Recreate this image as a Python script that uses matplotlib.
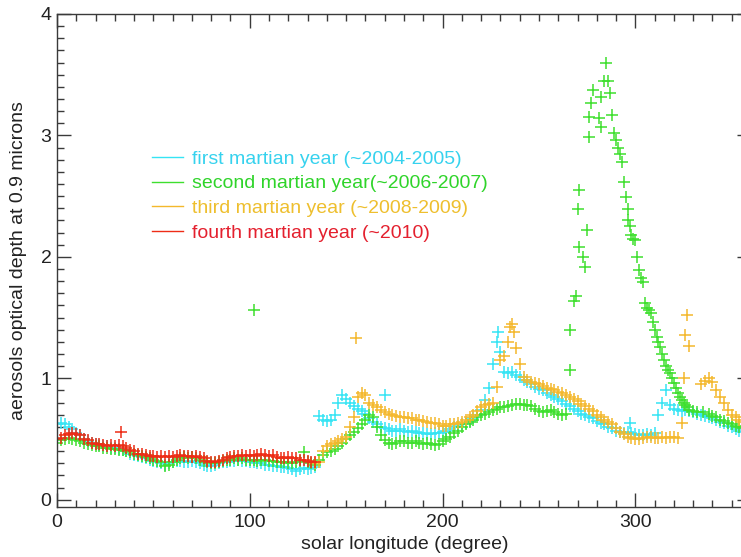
import matplotlib
matplotlib.use("Agg")
import matplotlib.pyplot as plt
from matplotlib.lines import Line2D
from matplotlib.ticker import MultipleLocator

plt.rcParams['font.family'] = ['Liberation Sans', 'DejaVu Sans']

# ---------------- data (solar longitude, aerosol optical depth) ----------------
year1_label = "first martian year (~2004-2005)"
year2_label = "second martian year(~2006-2007)"
year3_label = "third martian year (~2008-2009)"
year4_label = "fourth martian year (~2010)"

year1_ls = [0, 2, 4, 6, 8, 10, 12, 14, 16, 18, 20, 22, 24, 26, 28, 30, 32, 34, 36, 38,
            40, 42, 44, 46, 48, 50, 52, 54, 56, 58, 60, 62, 64, 66, 68, 70, 72, 74, 76, 78,
            80, 82, 84, 86, 88, 90, 92, 94, 96, 98, 100, 102, 104, 106, 108, 110, 112, 114,
            116, 118, 120, 122, 124, 126, 128, 130, 132, 134, 136, 138, 140, 142, 144, 146,
            148, 150, 152, 154, 156, 158, 160, 162, 164, 166, 168, 170, 170, 172, 174, 176,
            178, 180, 182, 184, 186, 188, 190, 192, 194, 196, 198, 200, 202, 204, 206, 208,
            210, 212, 214, 216, 218, 220, 222, 224, 226, 228, 229, 230, 232, 234, 236, 238,
            240, 242, 244, 246, 248, 250, 252, 254, 256, 258, 260, 262, 264, 266, 268, 270,
            272, 274, 276, 278, 280, 282, 284, 286, 288, 290, 292, 294, 296, 297, 298, 300,
            302, 304, 306, 308, 310, 312, 314, 316, 318, 320, 322, 324, 326, 328, 330, 332,
            334, 336, 338, 340, 342, 344, 346, 348, 350, 352, 354, 356, 358, 360]
year1_tau = [0.62, 0.63, 0.62, 0.60, 0.58, 0.55, 0.53, 0.50, 0.48, 0.47, 0.46, 0.45, 0.44,
             0.44, 0.43, 0.43, 0.42, 0.41, 0.40, 0.38, 0.37, 0.36, 0.35, 0.34, 0.33, 0.32,
             0.31, 0.30, 0.29, 0.30, 0.31, 0.32, 0.32, 0.31, 0.31, 0.32, 0.31, 0.30, 0.29,
             0.28, 0.28, 0.29, 0.30, 0.31, 0.31, 0.32, 0.32, 0.33, 0.32, 0.32, 0.31, 0.31,
             0.30, 0.30, 0.29, 0.29, 0.28, 0.28, 0.27, 0.27, 0.26, 0.25, 0.24, 0.25, 0.26,
             0.25, 0.26, 0.27, 0.69, 0.66, 0.65, 0.66, 0.70, 0.80, 0.86, 0.83, 0.80, 0.77,
             0.75, 0.73, 0.71, 0.67, 0.64, 0.62, 0.60, 0.59, 0.86, 0.58, 0.57, 0.57, 0.58,
             0.57, 0.56, 0.57, 0.56, 0.55, 0.55, 0.54, 0.54, 0.55, 0.55, 0.56, 0.57, 0.58,
             0.60, 0.61, 0.62, 0.63, 0.65, 0.67, 0.70, 0.74, 0.82, 0.92, 1.12, 1.30, 1.38,
             1.22, 1.05, 1.04, 1.05, 1.03, 1.01, 0.99, 0.97, 0.95, 0.93, 0.91, 0.90, 0.88,
             0.86, 0.85, 0.83, 0.81, 0.79, 0.77, 0.75, 0.73, 0.71, 0.70, 0.68, 0.67, 0.65,
             0.63, 0.62, 0.60, 0.59, 0.57, 0.56, 0.55, 0.56, 0.63, 0.55, 0.54, 0.53, 0.53,
             0.54, 0.53, 0.55, 0.70, 0.80, 0.90, 0.78, 0.75, 0.74, 0.73, 0.74, 0.73, 0.72,
             0.71, 0.70, 0.69, 0.68, 0.67, 0.66, 0.64, 0.63, 0.61, 0.60, 0.58, 0.57, 0.56,
             0.55, 0.54]

year2_ls = [0, 2, 4, 6, 8, 10, 12, 14, 16, 18, 20, 22, 24, 26, 28, 30, 32, 34, 36, 38,
            40, 42, 44, 46, 48, 50, 52, 54, 56, 58, 60, 62, 64, 66, 68, 70, 72, 74, 76, 78,
            80, 82, 84, 86, 88, 90, 92, 94, 96, 98, 100, 102, 104, 106, 108, 110, 112, 114,
            116, 118, 120, 122, 124, 126, 128, 130, 132, 134, 136, 138, 140, 142, 144, 146,
            148, 150, 152, 154, 156, 158, 160, 162, 164, 166, 168, 170, 172, 174, 176, 178,
            180, 182, 184, 186, 188, 190, 192, 194, 196, 198, 200, 202, 204, 206, 208, 210,
            212, 214, 216, 218, 220, 222, 224, 226, 228, 230, 232, 234, 236, 238, 240, 242,
            244, 246, 248, 250, 252, 254, 256, 258, 260, 262, 264,
            266, 266, 268, 269, 274, 273, 271, 275, 270, 271,
            276, 276, 277, 278, 281, 282, 282, 284, 286, 285, 287, 288, 289, 290, 291, 292,
            293, 294, 295, 296, 296, 297, 298, 299, 300, 301, 302, 303, 304, 305, 306, 307,
            308, 309, 310, 311, 312, 313, 314, 315, 316, 317, 318, 319, 320, 321, 322, 323,
            324, 325, 326, 327, 328, 330, 332, 335, 338, 340, 342, 344, 346, 348, 350, 352,
            354, 356, 358, 360, 102]
year2_tau = [0.47, 0.49, 0.50, 0.51, 0.50, 0.49, 0.48, 0.47, 0.46, 0.45, 0.44, 0.44, 0.43,
             0.43, 0.42, 0.42, 0.41, 0.41, 0.40, 0.39, 0.38, 0.37, 0.36, 0.35, 0.34, 0.33,
             0.32, 0.31, 0.28, 0.29, 0.31, 0.33, 0.34, 0.35, 0.34, 0.35, 0.34, 0.33, 0.32,
             0.31, 0.30, 0.30, 0.31, 0.32, 0.33, 0.33, 0.34, 0.33, 0.34, 0.33, 0.33, 0.33,
             0.32, 0.33, 0.33, 0.32, 0.32, 0.31, 0.31, 0.31, 0.30, 0.30, 0.31, 0.32, 0.39,
             0.31, 0.30, 0.29, 0.33, 0.37, 0.39, 0.40, 0.42, 0.44, 0.47, 0.50, 0.53, 0.56,
             0.59, 0.62, 0.66, 0.70, 0.68, 0.60, 0.53, 0.49, 0.47, 0.46, 0.47, 0.48, 0.48,
             0.47, 0.47, 0.48, 0.47, 0.46, 0.47, 0.46, 0.45, 0.46, 0.48, 0.50, 0.52, 0.55,
             0.57, 0.60, 0.62, 0.64, 0.66, 0.68, 0.70, 0.71, 0.72, 0.74, 0.75, 0.76, 0.76,
             0.77, 0.78, 0.79, 0.79, 0.78, 0.78, 0.77, 0.75, 0.73, 0.72, 0.73, 0.74, 0.72,
             0.71, 0.70, 0.71,
             1.07, 1.40, 1.64, 1.68, 1.92, 2.00, 2.08, 2.22, 2.39, 2.55,
             2.99, 3.15, 3.27, 3.37, 3.14, 3.07, 3.32, 3.45, 3.45, 3.60, 3.35, 3.17, 3.02,
             2.96, 2.90, 2.85, 2.78, 2.62, 2.49, 2.39, 2.30, 2.25, 2.18, 2.15, 2.14, 2.00,
             1.89, 1.83, 1.79, 1.62, 1.58, 1.56, 1.54, 1.46, 1.40, 1.34, 1.30, 1.26, 1.20,
             1.15, 1.10, 1.07, 1.04, 1.00, 0.96, 0.92, 0.88, 0.85, 0.82, 0.80, 0.78, 0.76,
             0.74, 0.73, 0.72, 0.72, 0.71, 0.69, 0.68, 0.66, 0.65, 0.63, 0.62, 0.61, 0.60,
             0.59, 0.58, 0.57, 1.56]

year3_ls = [134, 136, 138, 140, 142, 144, 146, 148, 150, 152, 154, 155, 156, 158, 160, 162,
            164, 166, 168, 170, 172, 174, 176, 178, 180, 182, 184, 186, 188, 190, 192, 194,
            196, 198, 200, 202, 204, 206, 208, 210, 212, 214, 216, 218, 220, 222, 224, 226,
            228, 230, 232, 234, 235, 236, 237, 238, 240, 242, 244, 246, 248, 250, 252, 254,
            256, 258, 260, 262, 264, 266, 268, 270, 272, 274, 276, 278, 280, 282, 284, 286,
            288, 290, 292, 294, 296, 298, 300, 302, 304, 306, 308, 310, 312, 314, 316, 318,
            320, 322, 324, 325, 326, 327, 328, 334, 336, 338, 340, 342, 344, 346, 348, 350,
            352, 354, 356, 358, 360]
year3_tau = [0.30, 0.31, 0.40, 0.44, 0.46, 0.47, 0.48, 0.50, 0.52, 0.60, 0.68, 1.33, 0.85,
             0.88, 0.86, 0.80, 0.78, 0.76, 0.74, 0.72, 0.71, 0.70, 0.69, 0.68, 0.68, 0.67,
             0.67, 0.66, 0.66, 0.65, 0.64, 0.63, 0.63, 0.62, 0.61, 0.61, 0.62, 0.62, 0.63,
             0.64, 0.66, 0.68, 0.70, 0.73, 0.76, 0.78, 0.79, 0.80, 0.93, 1.15, 1.18, 1.30,
             1.42, 1.45, 1.38, 1.25, 1.12, 1.01, 0.99, 0.97, 0.96, 0.95, 0.94, 0.92, 0.91,
             0.90, 0.89, 0.88, 0.86, 0.85, 0.83, 0.81, 0.79, 0.77, 0.75, 0.73, 0.70, 0.68,
             0.66, 0.64, 0.62, 0.59, 0.56, 0.54, 0.52, 0.51, 0.50, 0.50, 0.51, 0.52, 0.52,
             0.51, 0.51, 0.52, 0.51, 0.52, 0.52, 0.51, 0.63, 1.00, 1.36, 1.52, 1.27, 0.95,
             0.98, 1.00, 0.97, 0.90, 0.85, 0.80, 0.74, 0.70, 0.68, 0.66, 0.64, 0.62, 0.60]

year4_ls = [0, 2, 4, 6, 8, 10, 12, 14, 16, 18, 20, 22, 24, 26, 28, 30, 32, 33, 34, 36, 38,
            40, 42, 44, 46, 48, 50, 52, 54, 56, 58, 60, 62, 64, 66, 68, 70, 72, 74, 76, 78,
            80, 82, 84, 86, 88, 90, 92, 94, 96, 98, 100, 102, 104, 106, 108, 110, 112, 114,
            116, 118, 120, 122, 124, 126, 128, 130, 132, 134]
year4_tau = [0.50, 0.51, 0.53, 0.54, 0.55, 0.54, 0.53, 0.50, 0.49, 0.47, 0.46, 0.46, 0.45,
             0.44, 0.45, 0.44, 0.45, 0.56, 0.44, 0.43, 0.41, 0.40, 0.38, 0.38, 0.37, 0.36,
             0.36, 0.35, 0.36, 0.35, 0.36, 0.35, 0.36, 0.37, 0.36, 0.36, 0.35, 0.36, 0.35,
             0.34, 0.32, 0.31, 0.31, 0.32, 0.33, 0.34, 0.35, 0.36, 0.36, 0.37, 0.36, 0.37,
             0.36, 0.37, 0.38, 0.37, 0.36, 0.37, 0.35, 0.34, 0.34, 0.35, 0.34, 0.34, 0.33,
             0.33, 0.32, 0.31, 0.31]

colors = ['#35E4F4', '#3EDF2E', '#F4B82C', '#EE2C16']
text_colors = ['#36D2EE', '#2FD42A', '#EEBF2E', '#E4202E']

# ---------------- figure ----------------
W, H = 741, 557
fig = plt.figure(figsize=(W / 100, H / 100), dpi=100)
left_px, right_px, top_px, bot_px = 57, 751, 14, 507
ax = fig.add_axes([left_px / W, (H - bot_px) / H,
                   (right_px - left_px) / W, (bot_px - top_px) / H])

series = [(year1_ls, year1_tau), (year2_ls, year2_tau),
          (year3_ls, year3_tau), (year4_ls, year4_tau)]
for (xs, ys), c in zip(series, colors):
    ax.plot(xs, ys, linestyle='none', marker='+', markersize=8,
            markeredgewidth=1.1, color=c)

ax.set_xlim(0, 360)
ax.set_ylim(-0.06, 4)
ax.xaxis.set_major_locator(MultipleLocator(100))
ax.xaxis.set_minor_locator(MultipleLocator(10))
ax.yaxis.set_major_locator(MultipleLocator(1))
ax.yaxis.set_minor_locator(MultipleLocator(0.1))

axis_col = '#3a3a3a'
fs = 14
for s in ax.spines.values():
    s.set_color(axis_col)
    s.set_linewidth(1.0)
ax.tick_params(which='both', direction='in', top=True, right=True,
               color=axis_col, width=1.0, labelsize=fs, labelcolor='#222222')
ax.tick_params(which='major', length=10)
ax.tick_params(which='minor', length=5)
ax.tick_params(axis='x', pad=5)
ax.tick_params(axis='y', pad=4)

ax.set_xlabel('solar longitude (degree)', fontsize=fs, color='#222222')
ax.set_ylabel('aerosols optical depth at 0.9 microns', fontsize=fs, color='#222222')
ax.xaxis.set_label_coords((405 - left_px) / (right_px - left_px), -0.058)
ax.yaxis.set_label_coords((27 - left_px) / (right_px - left_px), 0.5)

labels = [year1_label, year2_label, year3_label, year4_label]
handles = [Line2D([], [], color=c, linewidth=1.0) for c in colors]
leg = ax.legend(handles, labels, loc='upper left',
                bbox_to_anchor=((152 - left_px) / (right_px - left_px), 0.724),
                frameon=False, fontsize=fs, handlelength=1.6,
                handletextpad=0.46, labelspacing=0.37, borderpad=0,
                borderaxespad=0)
for t, c in zip(leg.get_texts(), text_colors):
    t.set_color(c)

fig.savefig('out.png', dpi=100)
